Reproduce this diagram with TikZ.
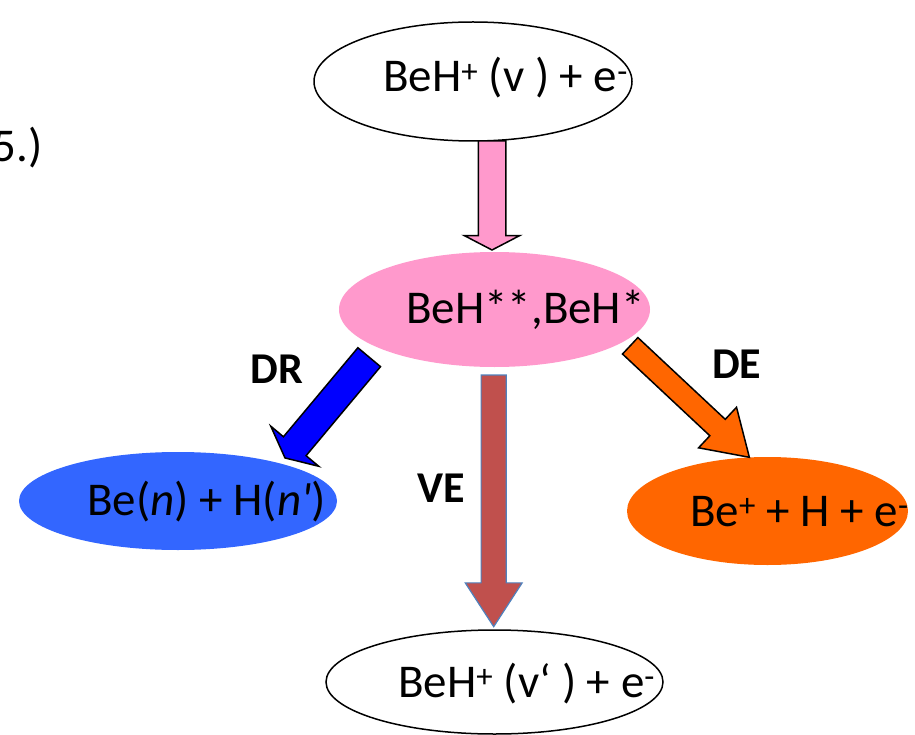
\documentclass[tikz,border=0pt]{standalone}
\usepackage{fontspec}
\setmainfont{Carlito}
\usetikzlibrary{shapes.geometric,shapes.arrows}
\definecolor{pinkc}{HTML}{FF99CC}
\definecolor{bluearr}{HTML}{0000FF}
\definecolor{blueell}{HTML}{3366FF}
\definecolor{orangec}{HTML}{FF6600}
\definecolor{redc}{HTML}{C0504D}
\definecolor{outblue}{HTML}{4F81BD}
\begin{document}
\begin{tikzpicture}[x=1pt,y=-1pt,
  ell/.style={ellipse, inner sep=0pt, line width=1.5pt},
  txt/.style={font=\fontsize{47}{50}\selectfont, inner sep=0pt, anchor=base west},
  tag/.style={font=\fontsize{44}{46}\selectfont\bfseries, inner sep=0pt},
  blockarrow/.style={single arrow, inner xsep=0pt, single arrow head indent=0pt,
    line width=1.5pt, draw=black, anchor=tail, outer sep=0pt}]
\useasboundingbox (0,0) rectangle (915,735);

% ellipses
\node[ell, draw=black, fill=white, minimum width=318pt, minimum height=119pt] (top) at (473,81.5) {};
\node[ell, fill=pinkc, minimum width=311pt, minimum height=115pt] (mid) at (494.5,309.5) {};
\node[ell, fill=blueell, minimum width=318pt, minimum height=98pt] (left) at (178,501) {};
\node[ell, fill=orangec, minimum width=281pt, minimum height=108pt] (right) at (767.5,511) {};
\node[ell, draw=black, fill=white, minimum width=337pt, minimum height=104pt] (bot) at (494.5,682) {};

% texts
\node[txt] (ttop) at (383,92) {BeH\textsuperscript{+} (v ) + e\textsuperscript{-}};
\node[txt] (tmid) at (406,323) {BeH**,BeH*};
\node[txt] (tleft) at (87,515) {Be(\textit{n}) + H(\textit{n\textquotesingle})};
\node[txt] (tright) at (690,526) {Be\textsuperscript{+} + H + e\textsuperscript{-}};
\node[txt] (tbot) at (398,697) {BeH\textsuperscript{+} (v‘ ) + e\textsuperscript{-}};
\node[txt, anchor=base east] (tfive) at (43,162) {5.)};

% labels
\node[tag] (dr) at (277,369) {DR};
\node[tag] (ve) at (441.7,488) {VE};
\node[tag] (de) at (736.7,364) {DE};

% arrow tails
\coordinate (ptail) at (492,141);
\coordinate (vtail) at (493.7,375);
\coordinate (drtail) at (369.2,357.2);
\coordinate (detail) at (630.2,345.8);

% block arrows
\node[blockarrow, fill=pinkc, rotate=-90, minimum height=109pt, minimum width=54pt,
  inner ysep=13pt, single arrow head extend=14pt, single arrow tip angle=125] (apink) at (ptail) {};
\node[blockarrow, fill=redc, draw=outblue, line width=1.2pt, rotate=-90, minimum height=251.7pt, minimum width=55.7pt,
  inner ysep=12pt, single arrow head extend=15.85pt, single arrow tip angle=66] (ave) at (vtail) {};
\node[blockarrow, fill=bluearr, rotate=-129.9, minimum height=131.3pt, minimum width=61pt,
  inner ysep=14pt, single arrow head extend=16.5pt, single arrow tip angle=128] (adr) at (drtail) {};
\node[blockarrow, fill=orangec, rotate=-43.1, minimum height=163.2pt, minimum width=54pt,
  inner ysep=10.5pt, single arrow head extend=16.5pt, single arrow tip angle=65] (ade) at (detail) {};
\end{tikzpicture}
\end{document}
